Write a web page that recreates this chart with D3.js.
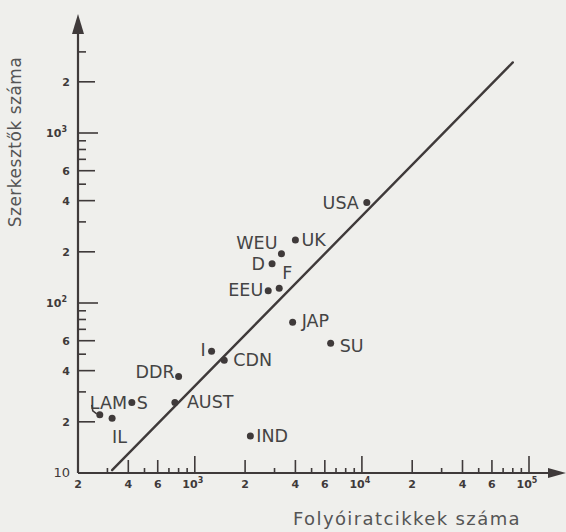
<!DOCTYPE html>
<html lang="hu">
<head>
<meta charset="UTF-8">
<style>
  body { margin: 0; background: #efefec; }
  svg { display: block; font-family: "DejaVu Sans", sans-serif; }
</style>
<script src="https://d3js.org/d3.v7.min.js"></script>
</head>
<body>
<svg id="chart" width="566" height="532"></svg>
<script>
// values
const countries = ["USA", "UK", "WEU", "D", "F", "EEU", "JAP", "SU", "I", "CDN", "DDR", "AUST", "S", "LAM", "IL", "IND"];
const articles  = [10700, 4000, 3300, 2900, 3200, 2750, 3850, 6500, 1260, 1500, 800, 760, 420, 270, 320, 2150];
const editors   = [390, 235, 195, 170, 122, 118, 77, 58, 52, 46, 37, 26, 26, 22, 21, 16.5];

// fitted line (slope 1 in log-log)
const lineX = [320, 80000];
const lineY = [10.4, 2600];

// tick values
const xMajor = [400, 600, 1000, 2000, 4000, 6000, 10000, 20000, 40000, 60000, 100000];
const xMinor = [300, 500, 700, 800, 900, 3000, 5000, 7000, 8000, 9000, 30000, 50000, 70000, 80000, 90000];
const xLabels = [200, 400, 600, 1000, 2000, 4000, 6000, 10000, 20000, 40000, 60000, 100000];
const yMajor = [20, 40, 60, 100, 200, 400, 600, 1000, 2000];
const yMinor = [30, 50, 70, 80, 90, 300, 500, 700, 800, 900, 3000];
const yLabels = [10, 20, 40, 60, 100, 200, 400, 600, 1000, 2000];

// label placement next to each dot: [dx, dy, anchor]
const labelPos = {
  USA: [-8, 6, "end"], UK: [6, 6, "start"], WEU: [-4, -5, "end"], D: [-7, 6, "end"],
  F: [3, -9, "start"], EEU: [-5, 5, "end"], JAP: [9, 5, "start"], SU: [9, 9, "start"],
  I: [-6, 5, "end"], CDN: [9, 6, "start"], DDR: [-4, 2, "end"], AUST: [12, 6, "start"],
  S: [5, 7, "start"], LAM: [-10, -6, "start"], IL: [0, 25, "start"], IND: [6, 6, "start"]
};

const ink = "#3f3a3a";
const svg = d3.select("#chart");
svg.append("rect").attr("width", 566).attr("height", 532).attr("fill", "#efefec");

const x = d3.scaleLog().domain([200, 100000]).range([78, 529]);
const y = d3.scaleLog().domain([10, 1000]).range([473, 133]);

const x0 = x(200), y0 = y(10);

function powLabel(sel, v) {
  const e = Math.log10(v);
  if (Number.isInteger(e) && e > 1) {
    sel.text("10");
    sel.append("tspan").attr("font-size", "8px").attr("dy", "-5").text(e);
  } else {
    sel.text(String(v).replace(/0+$/, ""));
  }
}

// axis lines with arrows
svg.append("line").attr("x1", x0).attr("x2", x0).attr("y1", y0).attr("y2", 30)
  .attr("stroke", ink).attr("stroke-width", 2.2);
svg.append("path").attr("d", `M${x0 - 6},34 L${x0},14 L${x0 + 6},34 Z`).attr("fill", ink);
svg.append("line").attr("x1", x0).attr("x2", 552).attr("y1", y0).attr("y2", y0)
  .attr("stroke", ink).attr("stroke-width", 2.2);
svg.append("path").attr("d", `M548,${y0 - 5} L566,${y0} L548,${y0 + 5} Z`).attr("fill", ink);

// x ticks (pointing up into the plot)
const gx = svg.append("g").attr("stroke", ink).attr("stroke-width", 1.6);
gx.selectAll("line.maj").data(xMajor).join("line")
  .attr("x1", d => x(d)).attr("x2", d => x(d))
  .attr("y1", y0).attr("y2", d => y0 - (Number.isInteger(Math.log10(d)) ? 17 : 13));
gx.selectAll("line.min").data(xMinor).join("line")
  .attr("x1", d => x(d)).attr("x2", d => x(d))
  .attr("y1", y0).attr("y2", y0 - 5);

svg.append("g").selectAll("text").data(xLabels).join("text")
  .attr("x", d => x(d) - (Number.isInteger(Math.log10(d)) ? 2 : 0))
  .attr("y", y0 + 15)
  .attr("text-anchor", "middle").attr("font-size", "11px").attr("font-weight", "bold")
  .attr("fill", ink)
  .each(function (d) { powLabel(d3.select(this), d); });

// y ticks (pointing right into the plot)
const gy = svg.append("g").attr("stroke", ink).attr("stroke-width", 1.6);
gy.selectAll("line.maj").data(yMajor).join("line")
  .attr("x1", x0).attr("x2", d => x0 + (Number.isInteger(Math.log10(d)) ? 20 : 17))
  .attr("y1", d => y(d)).attr("y2", d => y(d));
gy.selectAll("line.min").data(yMinor).join("line")
  .attr("x1", x0).attr("x2", x0 + 8)
  .attr("y1", d => y(d)).attr("y2", d => y(d));

svg.append("g").selectAll("text").data(yLabels).join("text")
  .attr("x", d => Number.isInteger(Math.log10(d)) && d > 10 ? 67 : 70)
  .attr("y", d => y(d) + 4)
  .attr("text-anchor", "end").attr("font-size", "11px").attr("font-weight", "bold")
  .attr("fill", ink)
  .each(function (d) {
    const s = d3.select(this);
    powLabel(s, d);
    if (d === 10) s.attr("font-size", "13px").attr("font-weight", "normal").text("10");
  });

// axis titles
svg.append("text")
  .attr("transform", `translate(21,142) rotate(-90)`)
  .attr("text-anchor", "middle").attr("font-size", "17px").attr("fill", "#555")
  .attr("letter-spacing", "0.5px")
  .text("Szerkesztők száma");
svg.append("text")
  .attr("x", 407).attr("y", 525)
  .attr("text-anchor", "middle").attr("font-size", "18px").attr("fill", "#555")
  .attr("letter-spacing", "1.4px")
  .text("Folyóiratcikkek száma");

// fitted line
svg.append("path")
  .datum(d3.zip(lineX, lineY))
  .attr("d", d3.line().x(d => x(d[0])).y(d => y(d[1])))
  .attr("stroke", ink).attr("stroke-width", 2.4).attr("fill", "none")
  .attr("stroke-linecap", "round");

// points
const pts = d3.zip(countries, articles, editors);
svg.append("g").selectAll("circle").data(pts).join("circle")
  .attr("cx", d => x(d[1])).attr("cy", d => y(d[2])).attr("r", 3.5)
  .attr("fill", ink);

svg.append("g").selectAll("text").data(pts).join("text")
  .attr("x", d => x(d[1]) + labelPos[d[0]][0])
  .attr("y", d => y(d[2]) + labelPos[d[0]][1])
  .attr("text-anchor", d => labelPos[d[0]][2])
  .attr("font-size", "17.5px").attr("fill", "#444")
  .text(d => d[0]);

// LAM leader line
const lam = pts.find(d => d[0] === "LAM");
svg.append("path")
  .attr("d", `M${x(lam[1]) - 8},${y(lam[2]) - 10} L${x(lam[1]) - 7},${y(lam[2]) - 4} L${x(lam[1]) - 3},${y(lam[2]) - 1}`)
  .attr("stroke", ink).attr("stroke-width", 1.6).attr("fill", "none");
</script>
</body>
</html>
